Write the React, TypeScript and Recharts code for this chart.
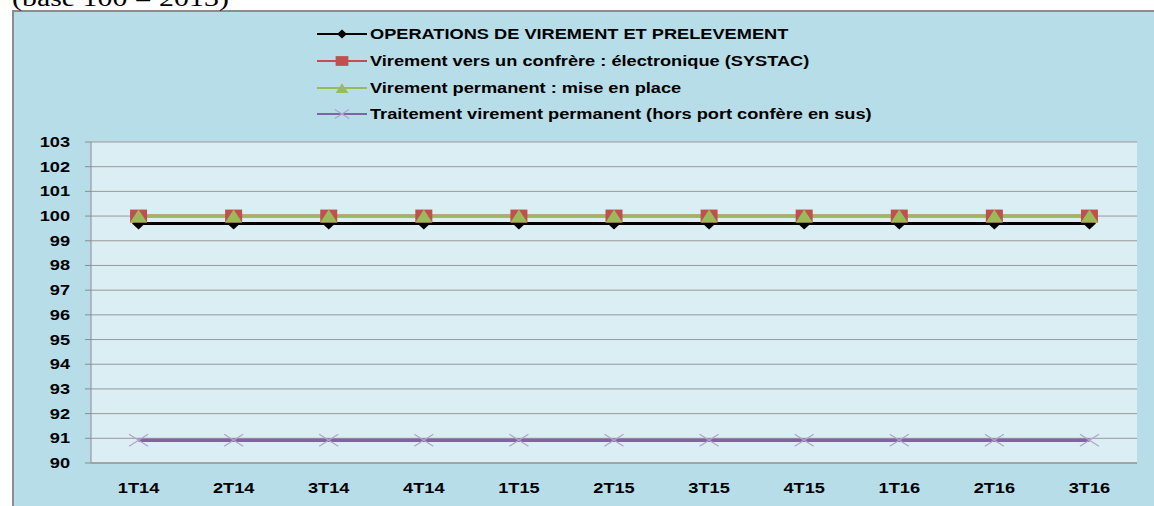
import React from 'react';
import { LineChart, Line, XAxis, YAxis, CartesianGrid, Legend } from 'recharts';

// ---- data ----
const categories = ['1T14', '2T14', '3T14', '4T14', '1T15', '2T15', '3T15', '4T15', '1T16', '2T16', '3T16'];
const operations = [99.7, 99.7, 99.7, 99.7, 99.7, 99.7, 99.7, 99.7, 99.7, 99.7, 99.7];
const systac = [100, 100, 100, 100, 100, 100, 100, 100, 100, 100, 100];
const permanentSetup = [100, 100, 100, 100, 100, 100, 100, 100, 100, 100, 100];
const permanentProcessing = [90.92, 90.92, 90.92, 90.92, 90.92, 90.92, 90.92, 90.92, 90.92, 90.92, 90.92];
const yTicks = [90, 91, 92, 93, 94, 95, 96, 97, 98, 99, 100, 101, 102, 103];
const seriesKeys = ['s1', 's2', 's3', 's4'];
const seriesNames = [
  'OPERATIONS DE VIREMENT ET PRELEVEMENT',
  'Virement vers un confrère : électronique (SYSTAC)',
  'Virement permanent : mise en place',
  'Traitement virement permanent (hors port confère en sus)',
];
const titleText = '(base 100 = 2013)';

const boundaryTicks = categories.map((_, i) => i).concat([categories.length]);
const centerTicks = categories.map((_, i) => i + 0.5);

const data = categories.map((c, i) => ({
  pos: i + 0.5,
  cat: c,
  s1: operations[i],
  s2: systac[i],
  s3: permanentSetup[i],
  s4: permanentProcessing[i],
}));

const COLORS: Record<string, string> = { s1: '#000000', s2: '#C0504D', s3: '#9BBB59', s4: '#8064A2' };
const FONT = '"Liberation Sans", Arial, sans-serif';
const STRETCH = 1.3;

function marker(kind: string, cx: number, cy: number, small: boolean, key?: any) {
  const k = small ? 0.75 : 1;
  if (kind === 's1') {
    const w = 6.5 * k, h = 6 * k;
    return <path key={key} d={`M${cx - w},${cy} L${cx},${cy - h} L${cx + w},${cy} L${cx},${cy + h} Z`} fill="#000" />;
  }
  if (kind === 's2') {
    const w = 8.5 * k, h = 6.5 * k;
    return <rect key={key} x={cx - w} y={cy - h} width={2 * w} height={2 * h} fill="#C0504D" />;
  }
  if (kind === 's3') {
    const w = 8.5 * k, h = 6.5 * k;
    return <path key={key} d={`M${cx},${cy - h} L${cx + w},${cy + h} L${cx - w},${cy + h} Z`} fill="#9BBB59" />;
  }
  const w = 9.5 * k, h = 6 * k;
  return (
    <g key={key}>
      <line x1={cx - w} y1={cy - h} x2={cx + w} y2={cy + h} stroke="#B3A2C7" strokeWidth={1.2} />
      <line x1={cx - w} y1={cy + h} x2={cx + w} y2={cy - h} stroke="#B3A2C7" strokeWidth={1.2} />
    </g>
  );
}

const dotFor = (kind: string) => (props: any) => {
  const { cx, cy, index } = props;
  if (cx == null || cy == null) return <g key={`${kind}-${index}`} />;
  return marker(kind, cx, cy, false, `${kind}-${index}`);
};

const YTick = (props: any) => {
  const { x, y, payload } = props;
  return (
    <g transform={`translate(${x},${y}) scale(${STRETCH},1)`}>
      <text x={0} y={0} dy="0.355em" textAnchor="end" fontFamily={FONT} fontWeight="bold" fontSize={14} fill="#000">
        {payload.value}
      </text>
    </g>
  );
};

const XTick = (props: any) => {
  const { x, y, payload } = props;
  return (
    <g transform={`translate(${x},${y}) scale(${STRETCH},1)`}>
      <text x={0} y={0} dy="0.72em" textAnchor="middle" fontFamily={FONT} fontWeight="bold" fontSize={14} fill="#000">
        {categories[Math.floor(payload.value)]}
      </text>
    </g>
  );
};

const LegendContent = (props: any) => {
  const payload = [...(props.payload || [])].sort(
    (a: any, b: any) => seriesKeys.indexOf(a.dataKey) - seriesKeys.indexOf(b.dataKey)
  );
  return (
    <div style={{ fontFamily: FONT, fontWeight: 'bold', fontSize: 14, color: '#000' }}>
      {payload.map((e: any) => {
        const key = e.dataKey as string;
        return (
          <div key={key} style={{ display: 'flex', alignItems: 'center', height: 26.67 }}>
            <svg width={50} height={20} style={{ display: 'block', overflow: 'visible' }}>
              <line x1={0} y1={10} x2={50} y2={10} stroke={COLORS[key]} strokeWidth={2} />
              {marker(key, 25, 10, true)}
            </svg>
            <span
              style={{
                display: 'inline-block',
                marginLeft: 3,
                whiteSpace: 'nowrap',
                transform: `scaleX(${STRETCH})`,
                transformOrigin: 'left center',
                lineHeight: '16px',
              }}
            >
              {e.value}
            </span>
          </div>
        );
      })}
    </div>
  );
};

export default function App() {
  return (
    <div style={{ position: 'absolute', left: 0, top: 0, width: 1154, height: 506, overflow: 'hidden', background: '#fff' }}>
      <div
        style={{
          position: 'absolute',
          left: 12,
          top: 10,
          width: 1200,
          height: 560,
          background: '#B7DDE8',
          borderLeft: '2px solid #8C8C8C',
          borderTop: '2px solid #8C8C8C',
        }}
      />
      <svg width={400} height={20} style={{ position: 'absolute', left: 0, top: 0 }}>
        <g transform={`translate(12,6) scale(${STRETCH},1)`}>
          <text x={0} y={0} fontFamily='"Liberation Serif", "Times New Roman", serif' fontSize={23} fill="#000">
            {titleText}
          </text>
        </g>
      </svg>
      <div style={{ position: 'absolute', left: 0, top: 0 }}>
        <LineChart width={1154} height={506} data={data} margin={{ top: 142, right: 17, bottom: 0, left: 0 }}>
          <CartesianGrid
            vertical={false}
            horizontal={true}
            stroke="#999999"
            fill="#DAEEF3"
            fillOpacity={1}
            xAxisId={0}
          />
          <XAxis
            xAxisId={0}
            type="number"
            dataKey="pos"
            domain={[0, categories.length]}
            ticks={boundaryTicks}
            interval={0}
            tickFormatter={() => ''}
            tickSize={6}
            height={1}
            stroke="#8C8C8C"
            tick={false}
          />
          <XAxis
            xAxisId={1}
            type="number"
            dataKey="pos"
            domain={[0, categories.length]}
            ticks={centerTicks}
            interval={0}
            axisLine={false}
            tickLine={false}
            tickSize={6}
            tickMargin={13}
            height={42}
            tick={<XTick />}
          />
          <YAxis
            type="number"
            domain={[90, 103]}
            ticks={yTicks}
            interval={0}
            width={91}
            tickSize={6}
            tickMargin={15}
            stroke="#8C8C8C"
            tick={<YTick />}
          />
          <Legend
            layout="vertical"
            align="center"
            verticalAlign="middle"
            content={<LegendContent />}
            wrapperStyle={{ left: 317, top: 21, width: 700, height: 110 }}
          />
          <Line xAxisId={0} dataKey="s1" name={seriesNames[0]} stroke={COLORS.s1} strokeWidth={3} dot={dotFor('s1')} activeDot={false} isAnimationActive={false} />
          <Line xAxisId={0} dataKey="s2" name={seriesNames[1]} stroke={COLORS.s2} strokeWidth={3} dot={dotFor('s2')} activeDot={false} isAnimationActive={false} />
          <Line xAxisId={0} dataKey="s3" name={seriesNames[2]} stroke={COLORS.s3} strokeWidth={3} dot={dotFor('s3')} activeDot={false} isAnimationActive={false} />
          <Line xAxisId={0} dataKey="s4" name={seriesNames[3]} stroke={COLORS.s4} strokeWidth={3.5} dot={dotFor('s4')} activeDot={false} isAnimationActive={false} />
        </LineChart>
      </div>
    </div>
  );
}
